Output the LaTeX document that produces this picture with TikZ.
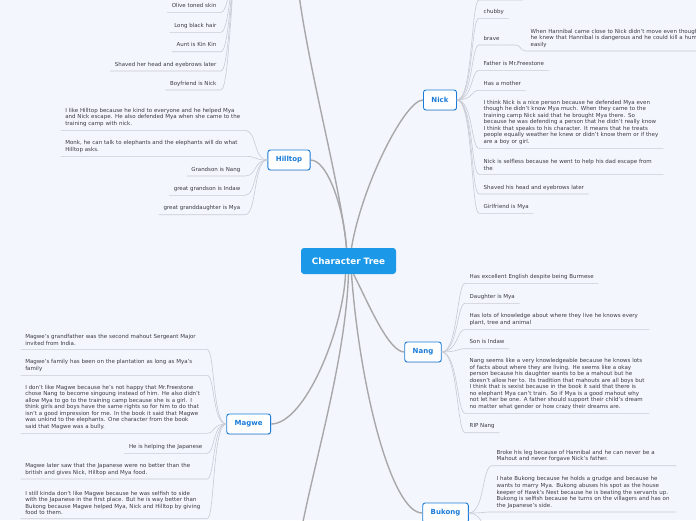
\documentclass[tikz,border=0pt]{standalone}
\usepackage{fontspec}
\setmainfont{DejaVu Sans}
\usepackage{xcolor}
\usetikzlibrary{positioning,shadows}
\definecolor{pagetint}{RGB}{244,246,253}
\definecolor{rootblue}{RGB}{27,152,232}
\definecolor{topicblue}{RGB}{26,124,216}
\definecolor{notegray}{RGB}{60,60,66}
\definecolor{trunkgray}{RGB}{168,168,170}
\definecolor{twiggray}{RGB}{200,203,212}
\newcommand{\notesize}{\fontsize{5.5}{6.55}\selectfont}
\tikzset{
  rootbox/.style={fill=rootblue,rounded corners=3pt,text=white,
    font=\bfseries\fontsize{8.8}{10}\selectfont,minimum width=95pt,minimum height=26pt},
  topicbox/.style={draw=topicblue,line width=0.9pt,fill=white,rounded corners=2.5pt,
    text=topicblue,font=\bfseries\fontsize{7}{8}\selectfont,inner xsep=8pt,minimum height=20pt,
    drop shadow={shadow xshift=0.5pt,shadow yshift=-0.8pt,opacity=0.3,fill=black!35}},
  notebox/.style={font=\notesize,text=notegray,inner xsep=4.5pt,inner ysep=3.5pt,text depth=1.2pt},
  leftnote/.style={notebox,anchor=south east,align=right},
  rightnote/.style={notebox,anchor=south west,align=left},
  widenote/.style={text width=#1,align=left,text depth=},
  widenote/.default=175pt,
  trunkline/.style={draw=trunkgray,line width=1.4pt},
  twigline/.style={draw=twiggray,line width=0.6pt}
}

\begin{document}
\begin{tikzpicture}[x=1pt,y=-1pt]
  \useasboundingbox (0,0) rectangle (696,520);
  \fill[pagetint] (0,0) rectangle (696,520);

  % centre and main branches
  \node[rootbox] (root) at (348.5,261) {Character Tree};
  \node[topicbox] (hilltop) at (289,160) {Hilltop};
  \node[topicbox] (nick) at (440,100) {Nick};
  \node[topicbox] (nang) at (423,352) {Nang};
  \node[topicbox] (magwe) at (248.7,424) {Magwe};
  \node[topicbox] (bukong) at (445.5,513) {Bukong};
  \coordinate (myaeast) at (296,-30);
  \coordinate (myawest) at (238,-45);
  \coordinate (nextbranch) at (296,560);

  % Mya (above the page)
  \node[leftnote] (olive) at (221,12.3) {Olive toned skin};
  \node[leftnote] (hair) at (221,32.3) {Long black hair};
  \node[leftnote] (aunt) at (221,51.7) {Aunt is Kin Kin};
  \node[leftnote] (shavedher) at (221,71) {Shaved her head and eyebrows later};
  \node[leftnote] (boyfriend) at (221,90) {Boyfriend is Nick};

  % Hilltop
  \node[leftnote,widenote] (likehill) at (245,130.3) {I like Hilltop because he kind to everyone and he helped Mya\\and Nick escape. He also defended Mya when she came to the\\training camp with nick.};
  \node[leftnote,widenote] (monk) at (245,156.3) {Monk, he can talk to elephants and the elephants will do what\\Hilltop asks.};
  \node[leftnote] (grandson) at (245,176) {Grandson is Nang};
  \node[leftnote] (ggson) at (245,195.3) {great grandson is Indaw};
  \node[leftnote] (ggdaughter) at (245,214.7) {great granddaughter is Mya};

  % Nick
  \coordinate (nickup) at (479,0);
  \node[rightnote] (chubby) at (479,18.3) {chubby};
  \node[rightnote] (brave) at (479,45) {brave};
  \node[rightnote,widenote=200pt] (hannibal) at (526,51) {When Hannibal came close to Nick didn't move even though\\he knew that Hannibal is dangerous and he could kill a human\\easily};
  \node[rightnote] (father) at (479,70.3) {Father is Mr.Freestone};
  \node[rightnote] (mother) at (479,90.3) {Has a mother};
  \node[rightnote,widenote] (nicenick) at (479,148.3) {I think Nick is a nice person because he defended Mya even\\though he didn't know Mya much. When they came to the\\training camp Nick said that he brought Mya there. So\\because he was defending a person that he didn't really know\\I think that speaks to his character. It means that he treats\\people equally weather he knew or didn't know them or if they\\are a boy or girl.};
  \node[rightnote,widenote] (selfless) at (479,174.3) {Nick is selfless because he went to help his dad escape from\\the};
  \node[rightnote] (shavedhis) at (479,194) {Shaved his head and eyebrows later};
  \node[rightnote] (girlfriend) at (479,213.3) {Girlfriend is Mya};

  % Nang
  \node[rightnote] (english) at (465,283.3) {Has excellent English despite being Burmese};
  \node[rightnote] (daughter) at (465,303.3) {Daughter is Mya};
  \node[rightnote,widenote] (knowledge) at (465,329.3) {Has lots of knowledge about where they live he knows every\\plant, tree and animal};
  \node[rightnote] (son) at (465,348.7) {Son is Indaw};
  \node[rightnote,widenote] (seems) at (465,413.3) {Nang seems like a very knowledgeable because he knows lots\\of facts about where they are living. He seems like a okay\\person because his daughter wants to be a mahout but he\\doesn't allow her to. Its tradition that mahouts are all boys but\\I think that is sexist because in the book it said that there is\\no elephant Mya can't train. So if Mya is a good mahout why\\not let her be one. A father should support their child's dream\\no matter what gender or how crazy their dreams are.};
  \node[rightnote] (rip) at (465,432.7) {RIP Nang};

  % Bukong
  \node[rightnote,widenote] (brokeleg) at (492,465.7) {Broke his leg because of Hannibal and he can never be a\\Mahout and never forgave Nick's father.};
  \node[rightnote,widenote] (hate) at (492,512) {I hate Bukong because he holds a grudge and because he\\wants to marry Mya. Bukong abuses his spot as the house\\keeper of Hawk's Nest because he is beating the servants up.\\Bukong is selfish because he turns on the villagers and has on\\the Japanese's side.};
  \coordinate (bukongdown) at (492,535);

  % Magwe
  \node[leftnote,widenote=177pt] (grandfather) at (207,349.3) {Magwe's grandfather was the second mahout Sergeant Major\\invited from India.};
  \node[leftnote,widenote=177pt] (family) at (207,375.3) {Magwe's family has been on the plantation as long as Mya's\\family};
  \node[leftnote,widenote=177pt] (dislike) at (207,433.3) {I don't like Magwe because he's not happy that Mr.Freestone\\chose Nang to become singoung instead of him. He also didn't\\allow Mya to go to the training camp because she is a girl. I\\think girls and boys have the same rights so for him to do that\\isn't a good impression for me. In the book it said that Magwe\\was unkind to the elephants. One character from the book\\said that Magwe was a bully.};
  \node[leftnote] (helping) at (207,453.3) {He is helping the Japanese};
  \node[leftnote,widenote=177pt] (later) at (207,479) {Magwe later saw that the Japanese were no better than the\\british and gives Nick, Hilltop and Mya food.};
  \node[leftnote,widenote=177pt] (still) at (207,518.7) {I still kinda don't like Magwe because he was selfish to side\\with the Japanese in the first place. But he is way better than\\Bukong because Magwe helped Mya, Nick and Hilltop by giving\\food to them.};

  % branches from the centre
  \draw[trunkline] ([xshift=-2pt]root.north) .. controls (340,180) and (305,60) .. (myaeast);
  \draw[trunkline] ([xshift=-2pt]root.north) .. controls (344,210) and (328,160) .. (hilltop.east);
  \draw[trunkline] ([xshift=3pt]root.north) .. controls (362,185) and (405,100) .. (nick.west);
  \draw[trunkline] ([xshift=5pt]root.south) .. controls (366,298) and (388,352) .. (nang.west);
  \draw[trunkline] ([xshift=-3pt]root.south) .. controls (343,330) and (305,424) .. (magwe.east);
  \draw[trunkline] ([xshift=3pt]root.south) .. controls (360,390) and (392,513) .. (bukong.west);
  \draw[trunkline] (root.south) .. controls (345,370) and (308,480) .. (nextbranch);

  % leaves
  \foreach \leaf in {olive,hair,aunt,shavedher,boyfriend}
    \draw[twigline] (\leaf.south west) -- (\leaf.south east) .. controls +(9,0) and +(-6,0) .. (myawest);
  \foreach \leaf in {likehill,monk,grandson,ggson,ggdaughter}
    \draw[twigline] (\leaf.south west) -- (\leaf.south east) .. controls +(12,0) and +(-14,0) .. (hilltop.west);
  \foreach \leaf in {chubby,brave,father,mother,nicenick,selfless,shavedhis,girlfriend}
    \draw[twigline] (nick.east) .. controls +(16,0) and +(-8,0) .. (\leaf.south west) -- (\leaf.south east);
  \draw[twigline] (nick.east) .. controls +(16,0) and +(-8,0) .. (nickup) -- ++(44,0);
  \draw[twigline] (brave.south east) -- ++(11,0) .. controls +(6,0) and +(-6,0) .. (hannibal.south west) -- (hannibal.south east);
  \foreach \leaf in {english,daughter,knowledge,son,seems,rip}
    \draw[twigline] (nang.east) .. controls +(16,0) and +(-8,0) .. (\leaf.south west) -- (\leaf.south east);
  \foreach \leaf in {brokeleg,hate}
    \draw[twigline] (bukong.east) .. controls +(16,0) and +(-10,0) .. (\leaf.south west) -- (\leaf.south east);
  \draw[twigline] (bukong.east) .. controls +(16,0) and +(-10,0) .. (bukongdown);
  \foreach \leaf in {grandfather,family,dislike,helping,later,still}
    \draw[twigline] (\leaf.south west) -- (\leaf.south east) .. controls +(8,0) and +(-14,0) .. (magwe.west);
\end{tikzpicture}
\end{document}
